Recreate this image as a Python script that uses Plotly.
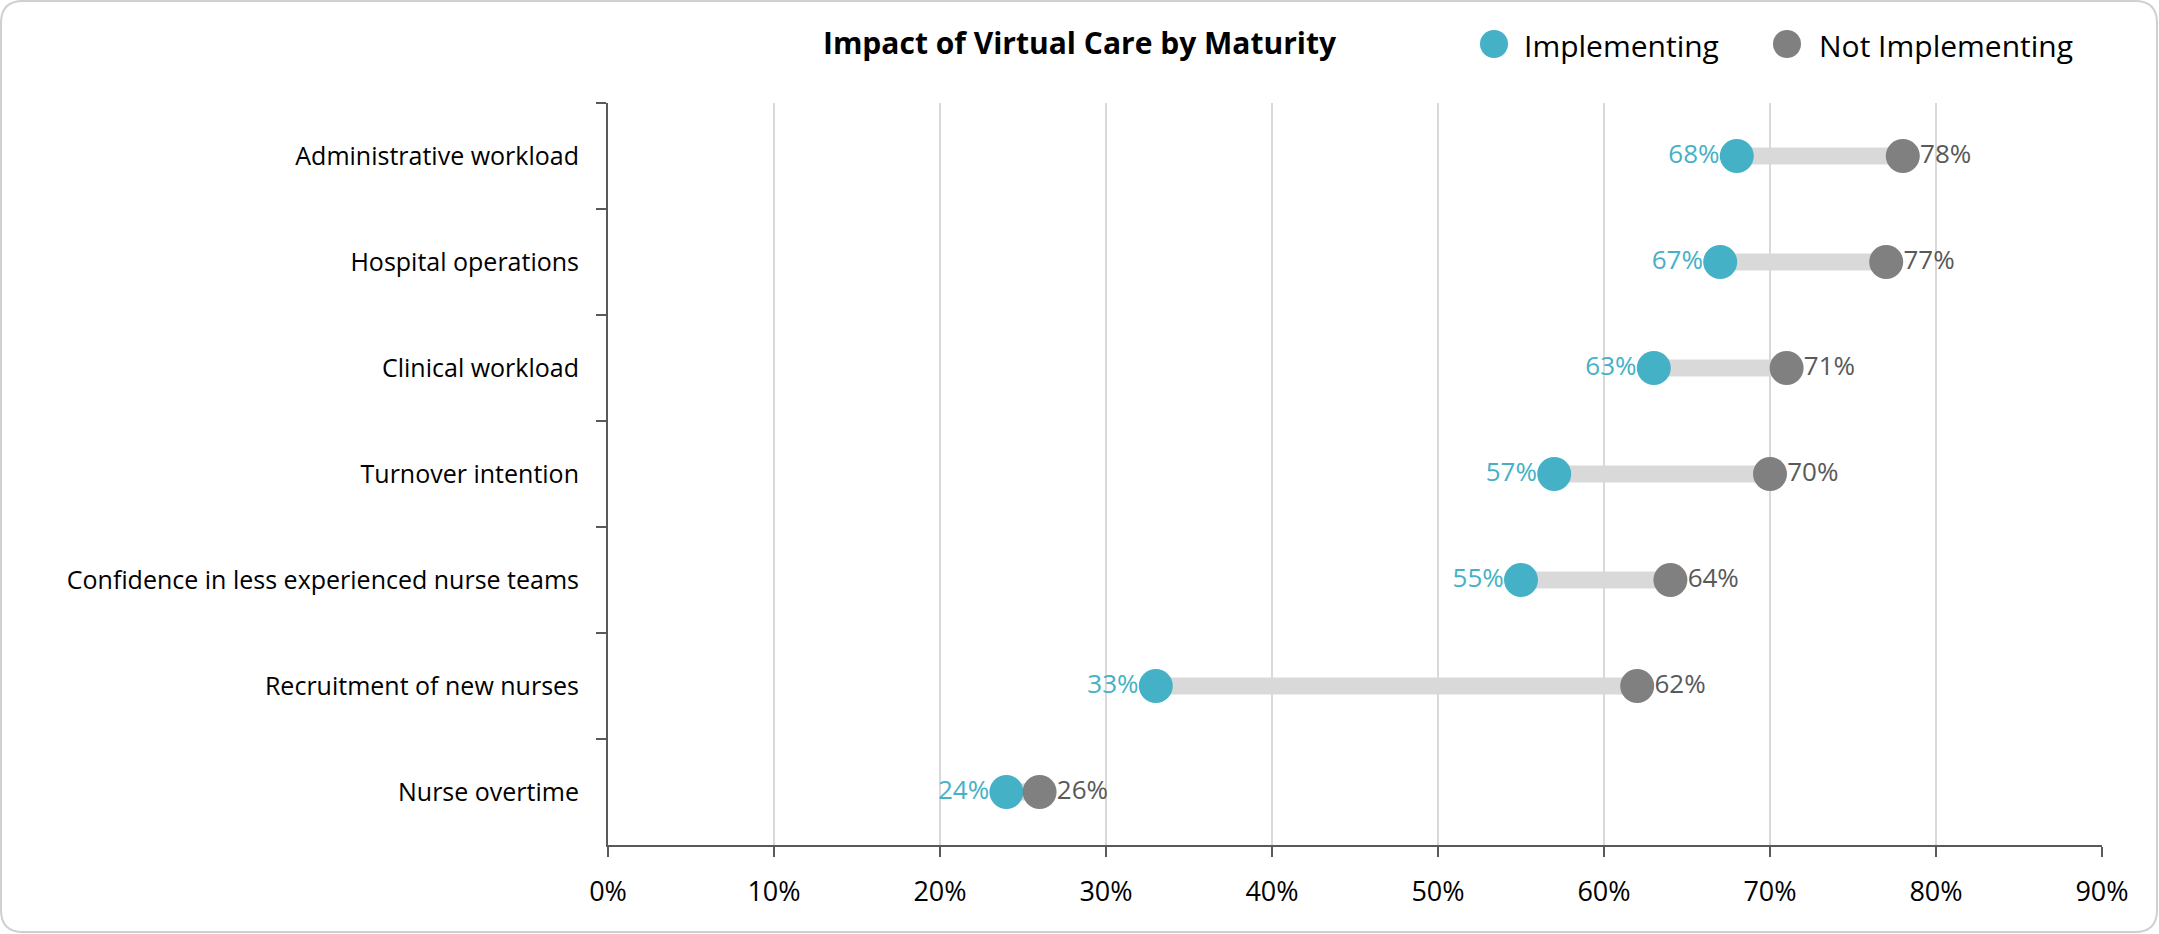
import plotly.graph_objects as go

categories = [
    "Administrative workload",
    "Hospital operations",
    "Clinical workload",
    "Turnover intention",
    "Confidence in less experienced nurse teams",
    "Recruitment of new nurses",
    "Nurse overtime",
]
implementing = [68, 67, 63, 57, 55, 33, 24]
not_implementing = [78, 77, 71, 70, 64, 62, 26]
x_ticks = [0, 10, 20, 30, 40, 50, 60, 70, 80, 90]

TEAL = "#45B1C6"
GREY = "#808080"
GREY_TXT = "#595959"
BAR = "#D9D9D9"
AXIS = "#595959"
FONT = "Open Sans"

W, H = 2159, 934
ML, MR, MT, MB = 608, 57, 103, 89
PW, PH = W - ML - MR, H - MT - MB


def px(x):
    return (x - ML) / PW


def py(y):
    return (H - MB - y) / PH


fig = go.Figure()

# connector bars
bx, by = [], []
for c, a, b in zip(categories, implementing, not_implementing):
    bx += [a, b, None]
    by += [c, c, None]
fig.add_trace(go.Scatter(x=bx, y=by, mode="lines", line=dict(color=BAR, width=17),
                         hoverinfo="skip", showlegend=False))

# markers
fig.add_trace(go.Scatter(
    x=implementing, y=categories, mode="markers", name="Implementing",
    marker=dict(color=TEAL, size=34), showlegend=False))
fig.add_trace(go.Scatter(
    x=not_implementing, y=categories, mode="markers", name="Not Implementing",
    marker=dict(color=GREY, size=34), showlegend=False))

# data labels (invisible smaller markers so labels sit close to the dots)
fig.add_trace(go.Scatter(
    x=implementing, y=categories, mode="markers+text", hoverinfo="skip",
    marker=dict(color=TEAL, size=26, opacity=0),
    text=[f"{v}%" for v in implementing], textposition="middle left",
    textfont=dict(color=TEAL, size=26, family=FONT), showlegend=False))
fig.add_trace(go.Scatter(
    x=not_implementing, y=categories, mode="markers+text", hoverinfo="skip",
    marker=dict(color=GREY, size=26, opacity=0),
    text=[f"{v}%" for v in not_implementing], textposition="middle right",
    textfont=dict(color=GREY_TXT, size=26, family=FONT), showlegend=False))

shapes = []
# custom legend markers
r = 14
for cx, col in [(1494, TEAL), (1787, GREY)]:
    shapes.append(dict(type="circle", xref="paper", yref="paper",
                       x0=px(cx - r), x1=px(cx + r), y0=py(44 + r), y1=py(44 - r),
                       fillcolor=col, line=dict(width=0)))

# rounded border
R = 22
x0, x1, y0, y1 = 1, W - 2, 1, H - 2
path = (f"M {px(x0 + R)},{py(y0)} L {px(x1 - R)},{py(y0)} "
        f"Q {px(x1)},{py(y0)} {px(x1)},{py(y0 + R)} "
        f"L {px(x1)},{py(y1 - R)} Q {px(x1)},{py(y1)} {px(x1 - R)},{py(y1)} "
        f"L {px(x0 + R)},{py(y1)} Q {px(x0)},{py(y1)} {px(x0)},{py(y1 - R)} "
        f"L {px(x0)},{py(y0 + R)} Q {px(x0)},{py(y0)} {px(x0 + R)},{py(y0)} Z")
shapes.append(dict(type="path", xref="paper", yref="paper", path=path,
                   line=dict(color="#D0D0D0", width=2)))

annotations = [
    dict(text="Implementing", xref="paper", yref="paper", x=px(1522), y=py(46),
         xanchor="left", yanchor="middle", showarrow=False,
         font=dict(size=30, color="#000000", family=FONT)),
    dict(text="Not Implementing", xref="paper", yref="paper", x=px(1817), y=py(46),
         xanchor="left", yanchor="middle", showarrow=False,
         font=dict(size=30, color="#000000", family=FONT)),
]

fig.update_layout(
    width=W, height=H,
    margin=dict(l=ML, r=MR, t=MT, b=MB),
    paper_bgcolor="white", plot_bgcolor="white",
    font=dict(family=FONT, color="#000000"),
    title=dict(text="<b>Impact of Virtual Care by Maturity</b>", x=0.5, xref="container",
               xanchor="center", y=1 - 43 / H, yref="container", yanchor="middle",
               font=dict(size=30, family=FONT, color="#000000")),
    shapes=shapes, annotations=annotations, showlegend=False,
)
fig.update_xaxes(range=[0, 90], tickvals=x_ticks, ticktext=[f"{v}%" for v in x_ticks],
                 showgrid=True, gridcolor=BAR, gridwidth=2, zeroline=False,
                 showline=True, linecolor=AXIS, linewidth=2,
                 ticks="outside", ticklen=10, tickcolor=AXIS, tickwidth=2,
                 ticklabelstandoff=12,
                 tickfont=dict(size=27, family=FONT, color="#000000"))
fig.update_yaxes(type="category", categoryorder="array", categoryarray=categories,
                 range=[6.5, -0.5], showgrid=False, zeroline=False,
                 showline=True, linecolor=AXIS, linewidth=2,
                 ticks="outside", ticklen=10, tickcolor=AXIS, tickwidth=2,
                 tickson="boundaries", ticklabelstandoff=22,
                 tickfont=dict(size=25, family=FONT, color="#000000"))

fig.write_html("out.html", config={"displayModeBar": False},
               post_script="document.body.style.margin='0';")
